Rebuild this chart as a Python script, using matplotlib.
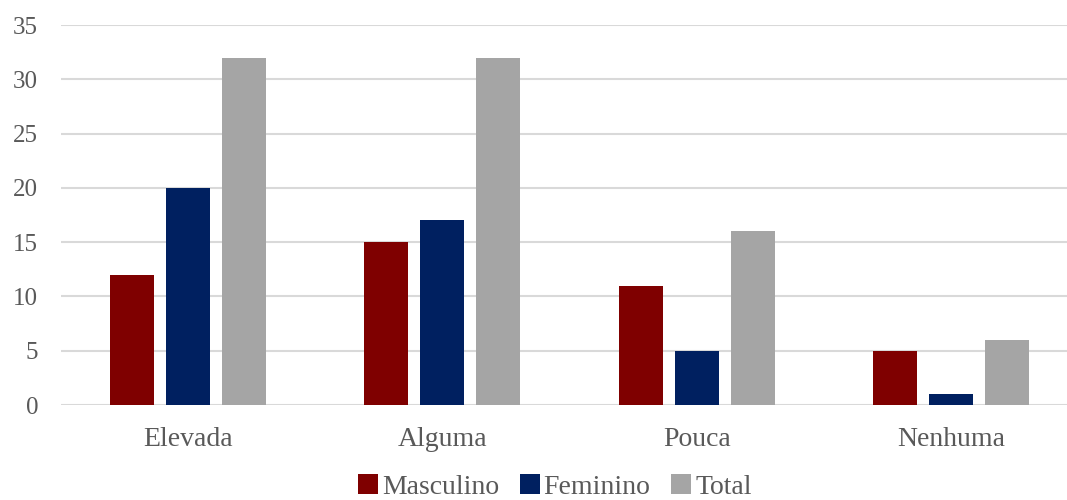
import numpy as np
import matplotlib.pyplot as plt

categories = ["Elevada", "Alguma", "Pouca", "Nenhuma"]
masculino = [12, 15, 11, 5]
feminino = [20, 17, 5, 1]
total = [32, 32, 16, 6]

series = [("Masculino", masculino, "#7F0000"),
          ("Feminino", feminino, "#002060"),
          ("Total", total, "#A5A5A5")]

plt.rcParams['font.family'] = ['Liberation Serif', 'DejaVu Serif']

fig = plt.figure(figsize=(10.67, 5.0), dpi=100)
# axes runs a bit past the right edge, like the clipped original
ax = fig.add_axes([61 / 1067, 95 / 500, 1017 / 1067, 380 / 500])

x = np.arange(len(categories))
width = 0.173
step = 0.22
for i, (name, vals, col) in enumerate(series):
    ax.bar(x + (i - 1) * step, vals, width, color=col, label=name, zorder=3)

ax.set_xlim(-0.5, len(categories) - 0.5)
ax.set_ylim(0, 35)
ax.set_yticks(range(0, 36, 5))
ax.set_xticks(x)
ax.set_xticklabels(categories)

ax.yaxis.grid(True, color="#D9D9D9", linewidth=1.5, zorder=0)
for s in ax.spines.values():
    s.set_visible(False)
ax.tick_params(axis="both", length=0, colors="#595959")
ax.tick_params(axis="y", pad=16.5, labelsize=18)
ax.tick_params(axis="x", pad=16, labelsize=20)

leg = ax.legend(loc="center", bbox_to_anchor=(555 / 1067, 13 / 500),
                bbox_transform=fig.transFigure, ncol=3, frameon=False,
                fontsize=20, handlelength=0.7, handleheight=0.7,
                handletextpad=0.15, columnspacing=0.75, borderpad=0.1)
for t in leg.get_texts():
    t.set_color("#595959")

fig.savefig("out.png", dpi=100)
